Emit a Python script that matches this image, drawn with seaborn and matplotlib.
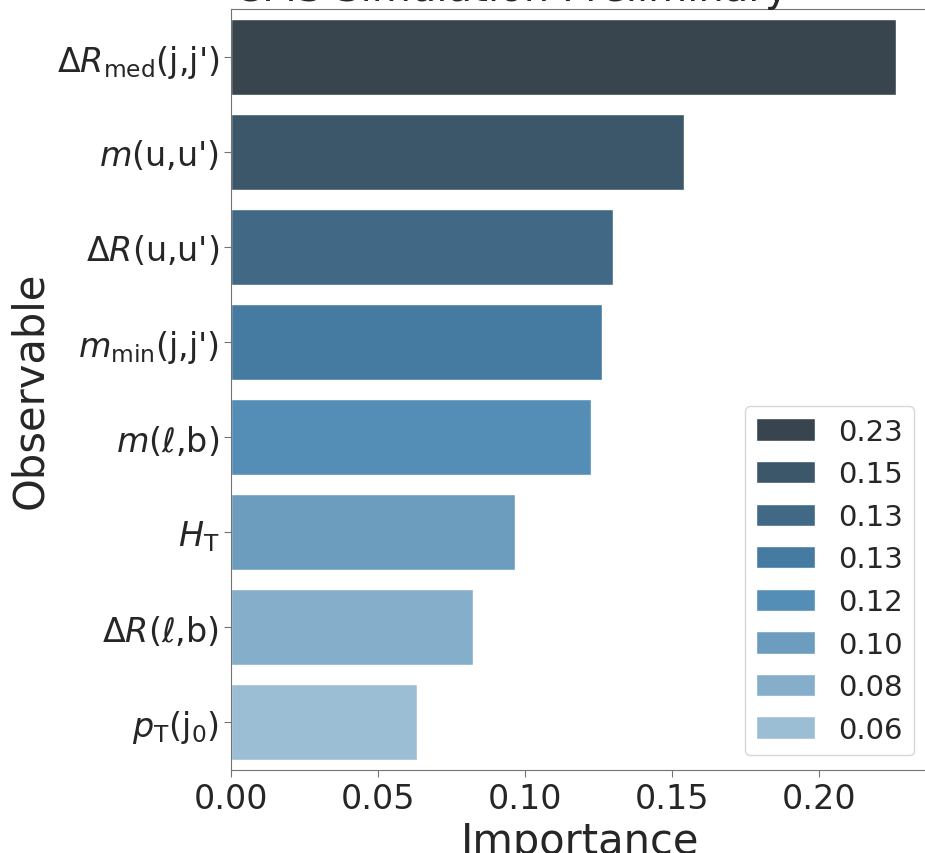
import numpy as np
import pandas as pd
import matplotlib
matplotlib.use("Agg")
import matplotlib.pyplot as plt
import seaborn as sns


#--------------------Data-----------------------
observables = [r"$\Delta R_{\mathrm{med}}$(j,j')",
               r"$m$(u,u')",
               r"$\Delta R$(u,u')",
               r"$m_{\mathrm{min}}$(j,j')",
               r"$m$($\ell$,b)",
               r"$H_{\mathrm{T}}$",
               r"$\Delta R$($\ell$,b)",
               r"$p_{\mathrm{T}}$(j$_{0}$)"]
importance = [0.226, 0.154, 0.130, 0.126, 0.1225, 0.0965, 0.0822, 0.0633]

df = pd.DataFrame({"observable": observables, "importance": importance})


#--------------------Plot-----------------------
sns.set_style("ticks")
plt.rcParams["font.family"] = ["DejaVu Sans"]
plt.rcParams["axes.edgecolor"] = "0.45"
plt.rcParams["xtick.color"] = "0.45"
plt.rcParams["ytick.color"] = "0.45"
plt.rcParams["xtick.labelcolor"] = "0.15"
plt.rcParams["ytick.labelcolor"] = "0.15"

fig = plt.figure(figsize=(9.25, 8.54), dpi=100)
ax = fig.add_axes([0.2497, 0.0972, 0.7546, 0.8911])

# dark for the most important observable
pal = sns.color_palette("Blues_d", len(observables))[::-1]
sns.barplot(x="importance", y="observable", hue="observable", data=df,
            palette=pal, legend=True, ax=ax)

ax.set_xlabel("Importance", fontsize=30, color="0.15")
ax.set_ylabel("Observable", fontsize=30, color="0.15")
ax.tick_params(axis="both", labelsize=24, length=5)
ax.set_xticks([0.0, 0.05, 0.10, 0.15, 0.20])
ax.set_xticklabels(["0.00", "0.05", "0.10", "0.15", "0.20"])

handles, _ = ax.get_legend_handles_labels()
ax.legend(handles, [f"{v:.2f}" for v in importance], loc="lower right",
          fontsize=21, handleheight=0.8)

fig.text(0.553, 0.999, "CMS Simulation Preliminary", fontsize=29,
         ha="center", va="baseline", color="0.15")

fig.savefig("out.png", dpi=100)
